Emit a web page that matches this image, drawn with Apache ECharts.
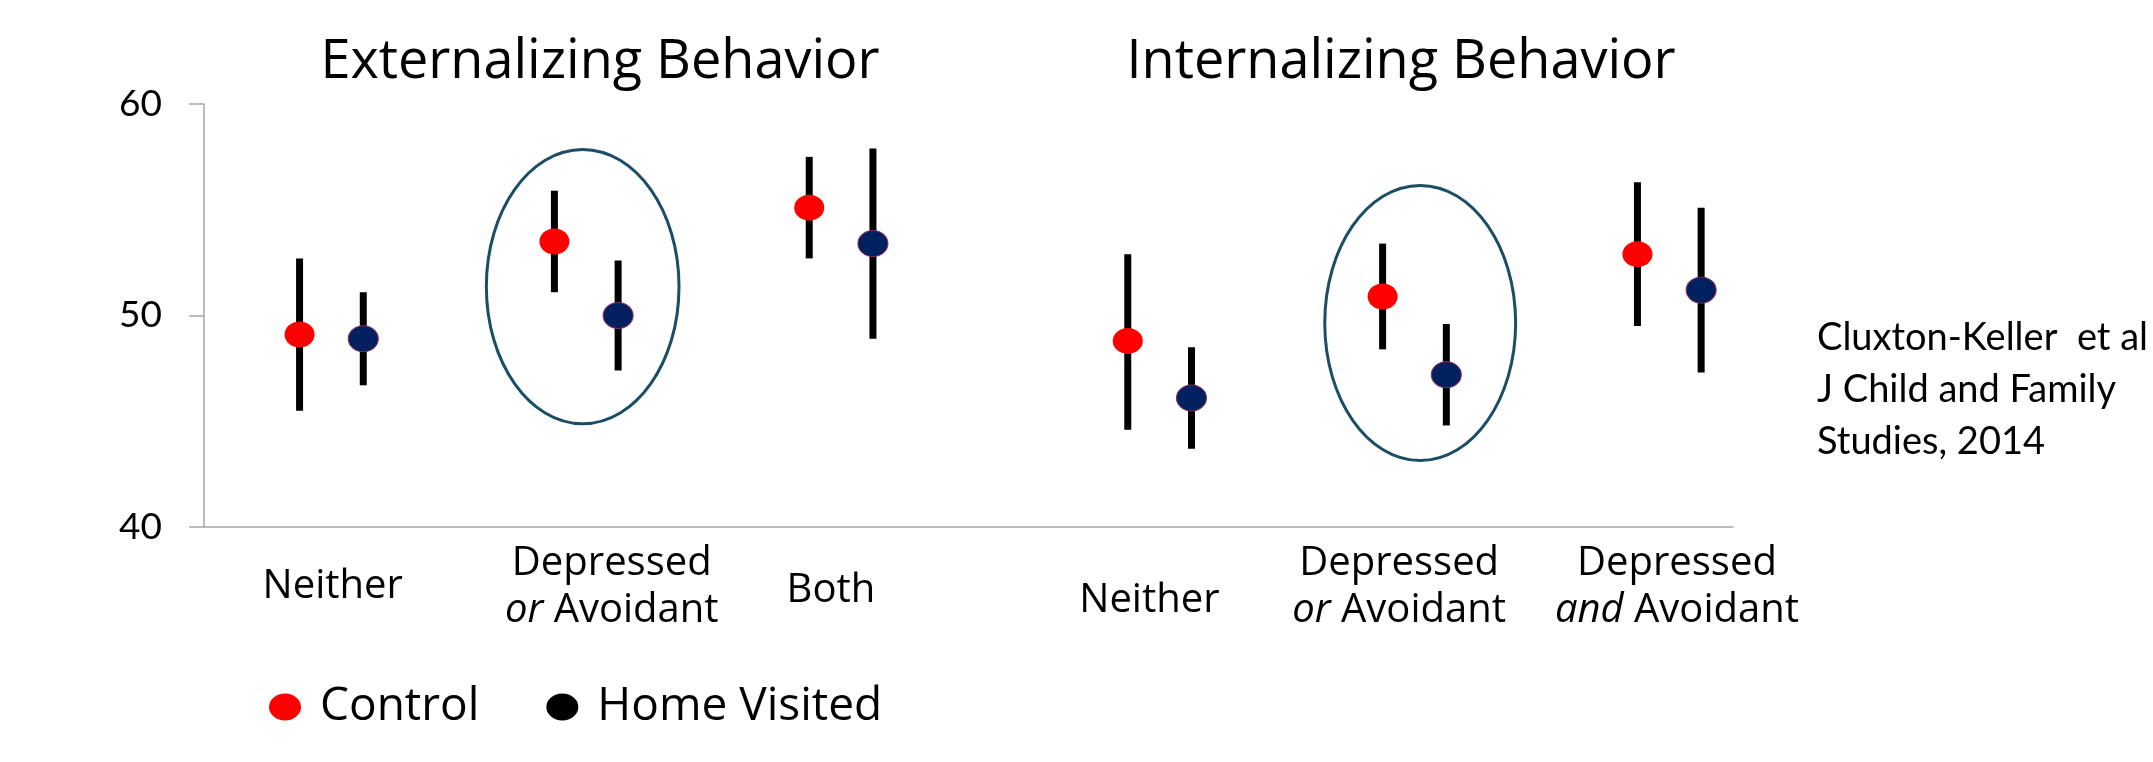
<!DOCTYPE html>
<html>
<head>
<meta charset="utf-8">
<script src="https://cdn.jsdelivr.net/npm/echarts@6/dist/echarts.min.js"></script>
<style>
  html, body { margin: 0; padding: 0; background: #fff; }
  #chart { width: 2153px; height: 762px; }
</style>
</head>
<body>
<div id="chart"></div>
<script>
// groups: externalizing (Neither / Depressed or Avoidant / Both), internalizing (same 3)
const groupLabels = ["Neither", "Depressed\n{i|or} Avoidant", "Both", "Neither", "Depressed\n{i|or} Avoidant", "Depressed\n{i|and} Avoidant"];
const labelX = [0.505, 1.6, 2.46, 3.71, 4.69, 5.78];
const labelDrop = [60, 60, 64, 74, 60, 60];

const controlX = [0.375, 1.375, 2.375, 3.625, 4.625, 5.625];
const controlMean = [49.1, 53.5, 55.1, 48.8, 50.9, 52.9];
const controlLow = [45.5, 51.1, 52.7, 44.6, 48.4, 49.5];
const controlHigh = [52.7, 55.9, 57.5, 52.9, 53.4, 56.3];

const homeX = [0.625, 1.625, 2.625, 3.875, 4.875, 5.875];
const homeMean = [48.9, 50.0, 53.4, 46.1, 47.2, 51.2];
const homeLow = [46.7, 47.4, 48.9, 43.7, 44.8, 47.3];
const homeHigh = [51.1, 52.6, 57.9, 48.5, 49.6, 55.1];

const yTicks = [40, 50, 60];

// circled groups: [xMin, xMax, yMin, yMax]
const highlights = [
  [1.108, 1.864, 44.88, 57.85],
  [4.398, 5.147, 43.14, 56.15],
];

const chartDom = document.getElementById("chart");
const myChart = echarts.init(chartDom);

const barData = [];
controlX.forEach((x, i) => barData.push([x, controlLow[i], controlHigh[i]]));
homeX.forEach((x, i) => barData.push([x, homeLow[i], homeHigh[i]]));

const font = "Open Sans";
const ovalIcon = "path://M0,50a50,50 0 1,0 100,0a50,50 0 1,0 -100,0z";

let option = {
  animation: false,
  backgroundColor: "#fff",
  grid: { left: 204, right: 420, top: 104, bottom: 235 },
  legend: {
    left: 269,
    top: 684,
    padding: 0,
    itemWidth: 32,
    itemHeight: 27,
    itemGap: 67,
    icon: ovalIcon,
    symbolKeepAspect: false,
    textStyle: { fontFamily: font, fontSize: 46, color: "#000", padding: [0, 0, 24, 14] },
    data: [
      { name: "Control", itemStyle: { color: "#ff0000", borderWidth: 0 } },
      { name: "Home Visited", itemStyle: { color: "#000000", borderWidth: 0 } },
    ],
  },
  xAxis: {
    type: "value",
    min: 0,
    max: 6,
    axisLine: { show: true, lineStyle: { color: "#a6a6a6", width: 1.5 } },
    axisTick: { show: false },
    axisLabel: { show: false },
    splitLine: { show: false },
  },
  yAxis: {
    type: "value",
    min: 40,
    max: 60,
    interval: 10,
    axisLine: { show: true, lineStyle: { color: "#a6a6a6", width: 1.5 } },
    axisTick: { show: true, length: 15, lineStyle: { color: "#a6a6a6", width: 1.5 } },
    axisLabel: {
      margin: 42,
      fontFamily: "Lato",
      fontSize: 37,
      color: "#000",
      formatter: (v) => (yTicks.includes(v) ? String(v) : ""),
    },
    splitLine: { show: false },
  },
  graphic: [
    {
      type: "text", x: 600, y: 63,
      style: { text: "Externalizing Behavior", fontFamily: font, fontSize: 54, fill: "#000", align: "center", verticalAlign: "middle" },
    },
    {
      type: "text", x: 1401, y: 63,
      style: { text: "Internalizing Behavior", fontFamily: font, fontSize: 54, fill: "#000", align: "center", verticalAlign: "middle" },
    },
    {
      type: "text", x: 1817, y: 390,
      style: {
        text: "Cluxton-Keller  et al\nJ Child and Family\nStudies, 2014",
        fontFamily: "Lato", fontSize: 38, lineHeight: 52, fill: "#000", align: "left", verticalAlign: "middle",
      },
    },
  ],
  series: [
    {
      name: "highlight",
      type: "custom",
      silent: true,
      z: 1,
      data: highlights,
      encode: { x: [0, 1], y: [2, 3] },
      renderItem: function (params, api) {
        const p1 = api.coord([api.value(0), api.value(3)]);
        const p2 = api.coord([api.value(1), api.value(2)]);
        return {
          type: "ellipse",
          shape: { cx: (p1[0] + p2[0]) / 2, cy: (p1[1] + p2[1]) / 2, rx: (p2[0] - p1[0]) / 2, ry: (p2[1] - p1[1]) / 2 },
          style: { fill: "none", stroke: "#1b4e66", lineWidth: 3 },
        };
      },
    },
    {
      name: "errorBars",
      type: "custom",
      silent: true,
      z: 2,
      data: barData,
      encode: { x: 0, y: [1, 2] },
      renderItem: function (params, api) {
        const top = api.coord([api.value(0), api.value(2)]);
        const bottom = api.coord([api.value(0), api.value(1)]);
        return {
          type: "rect",
          shape: { x: top[0] - 3.5, y: top[1], width: 7, height: bottom[1] - top[1] },
          style: { fill: "#000" },
        };
      },
    },
    {
      name: "Control",
      type: "scatter",
      z: 3,
      symbol: "circle",
      symbolSize: [30, 26],
      itemStyle: { color: "#ff0000", opacity: 1 },
      data: controlX.map((x, i) => [x, controlMean[i]]),
    },
    {
      name: "Home Visited",
      type: "scatter",
      z: 3,
      symbol: "circle",
      symbolSize: [30, 26],
      itemStyle: { color: "#002060", borderColor: "#8a2c5c", borderWidth: 1, opacity: 1 },
      data: homeX.map((x, i) => [x, homeMean[i]]),
    },
    {
      name: "groupLabels",
      type: "custom",
      silent: true,
      z: 4,
      data: labelX.map((x, i) => [x, 40, i]),
      encode: { x: 0, y: 1 },
      renderItem: function (params, api) {
        const i = api.value(2);
        const p = api.coord([api.value(0), api.value(1)]);
        return {
          type: "text",
          x: p[0],
          y: p[1] + labelDrop[i],
          style: {
            text: groupLabels[i],
            fontFamily: font,
            fontSize: 40,
            lineHeight: 47,
            fill: "#000",
            align: "center",
            verticalAlign: "middle",
            rich: {
              i: { fontFamily: font, fontSize: 40, lineHeight: 47, fontStyle: "italic" },
            },
          },
        };
      },
    },
  ],
};

option && myChart.setOption(option);
window.addEventListener("resize", () => myChart.resize());
</script>
</body>
</html>
